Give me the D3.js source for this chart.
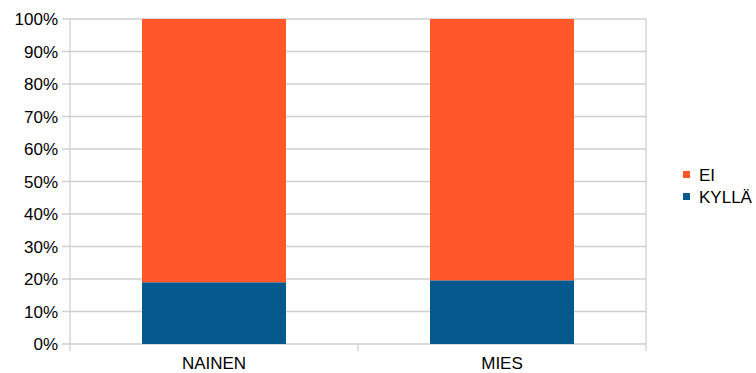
<!DOCTYPE html>
<html>
<head>
<meta charset="utf-8">
<script src="https://cdn.jsdelivr.net/npm/d3@7"></script>
<style>
  html, body { margin: 0; padding: 0; background: #fff; }
  svg { display: block; }
  text { font-family: "Liberation Sans", Arial, sans-serif; fill: #000; }
</style>
</head>
<body>
<svg id="chart" width="756" height="373"></svg>
<script>
// Share of answers per group (percent)
const categories = ["NAINEN", "MIES"];
const seriesNames = ["KYLLÄ", "EI"];
const kylla = [19.0, 19.6];
const ei = [81.0, 80.4];
const tickValues = [0, 10, 20, 30, 40, 50, 60, 70, 80, 90, 100];
const colors = { "KYLLÄ": "#045a8d", "EI": "#ff5729" };

(function () {
  const svg = d3.select("#chart");
  const plotLeft = 70, plotRight = 646, plotTop = 19, plotBottom = 344;

  const x = d3.scaleBand().domain(categories).range([plotLeft, plotRight]);
  const y = d3.scaleLinear().domain([0, 100]).range([plotBottom, plotTop]);

  const gridColor = "#cfcfcf";

  // horizontal gridlines with tick stubs on the left
  svg.append("g").selectAll("line").data(tickValues).join("line")
    .attr("x1", plotLeft - 8).attr("x2", plotRight)
    .attr("y1", d => y(d)).attr("y2", d => y(d))
    .attr("stroke", gridColor).attr("stroke-width", 1.3);

  // y axis line and right frame edge
  [plotLeft, plotRight].forEach(xx => {
    svg.append("line").attr("x1", xx).attr("x2", xx)
      .attr("y1", plotTop).attr("y2", plotBottom + 7)
      .attr("stroke", gridColor).attr("stroke-width", 1.3);
  });

  // category separator ticks below the axis
  svg.append("g").selectAll("line").data(categories.slice(1)).join("line")
    .attr("x1", d => x(d)).attr("x2", d => x(d))
    .attr("y1", plotBottom).attr("y2", plotBottom + 7)
    .attr("stroke", gridColor).attr("stroke-width", 1.3);

  // y tick labels
  svg.append("g").selectAll("text").data(tickValues).join("text")
    .attr("x", plotLeft - 12).attr("y", d => y(d))
    .attr("dy", "0.36em")
    .attr("text-anchor", "end")
    .style("font-size", "17px")
    .text(d => d + "%");

  // stacked bars
  const rows = categories.map((c, i) => ({ cat: c, "KYLLÄ": kylla[i], "EI": ei[i] }));
  const stacked = d3.stack().keys(seriesNames)(rows);
  const barW = x.bandwidth() * 0.5;

  svg.append("g").selectAll("g").data(stacked).join("g")
    .attr("fill", d => colors[d.key])
    .selectAll("rect").data(d => d).join("rect")
    .attr("x", d => x(d.data.cat) + (x.bandwidth() - barW) / 2)
    .attr("width", barW)
    .attr("y", d => y(d[1]))
    .attr("height", d => y(d[0]) - y(d[1]));

  // category labels
  svg.append("g").selectAll("text").data(categories).join("text")
    .attr("x", d => x(d) + x.bandwidth() / 2)
    .attr("y", 369)
    .attr("text-anchor", "middle")
    .style("font-size", "17px")
    .text(d => d);

  // legend
  const legendItems = ["EI", "KYLLÄ"];
  const lg = svg.append("g").selectAll("g").data(legendItems).join("g")
    .attr("transform", (d, i) => `translate(683, ${171 + i * 22})`);
  lg.append("rect").attr("width", 7).attr("height", 7)
    .attr("fill", d => colors[d]);
  lg.append("text").attr("x", 16).attr("y", 10)
    .style("font-size", "17px")
    .text(d => d);
})();
</script>
</body>
</html>
